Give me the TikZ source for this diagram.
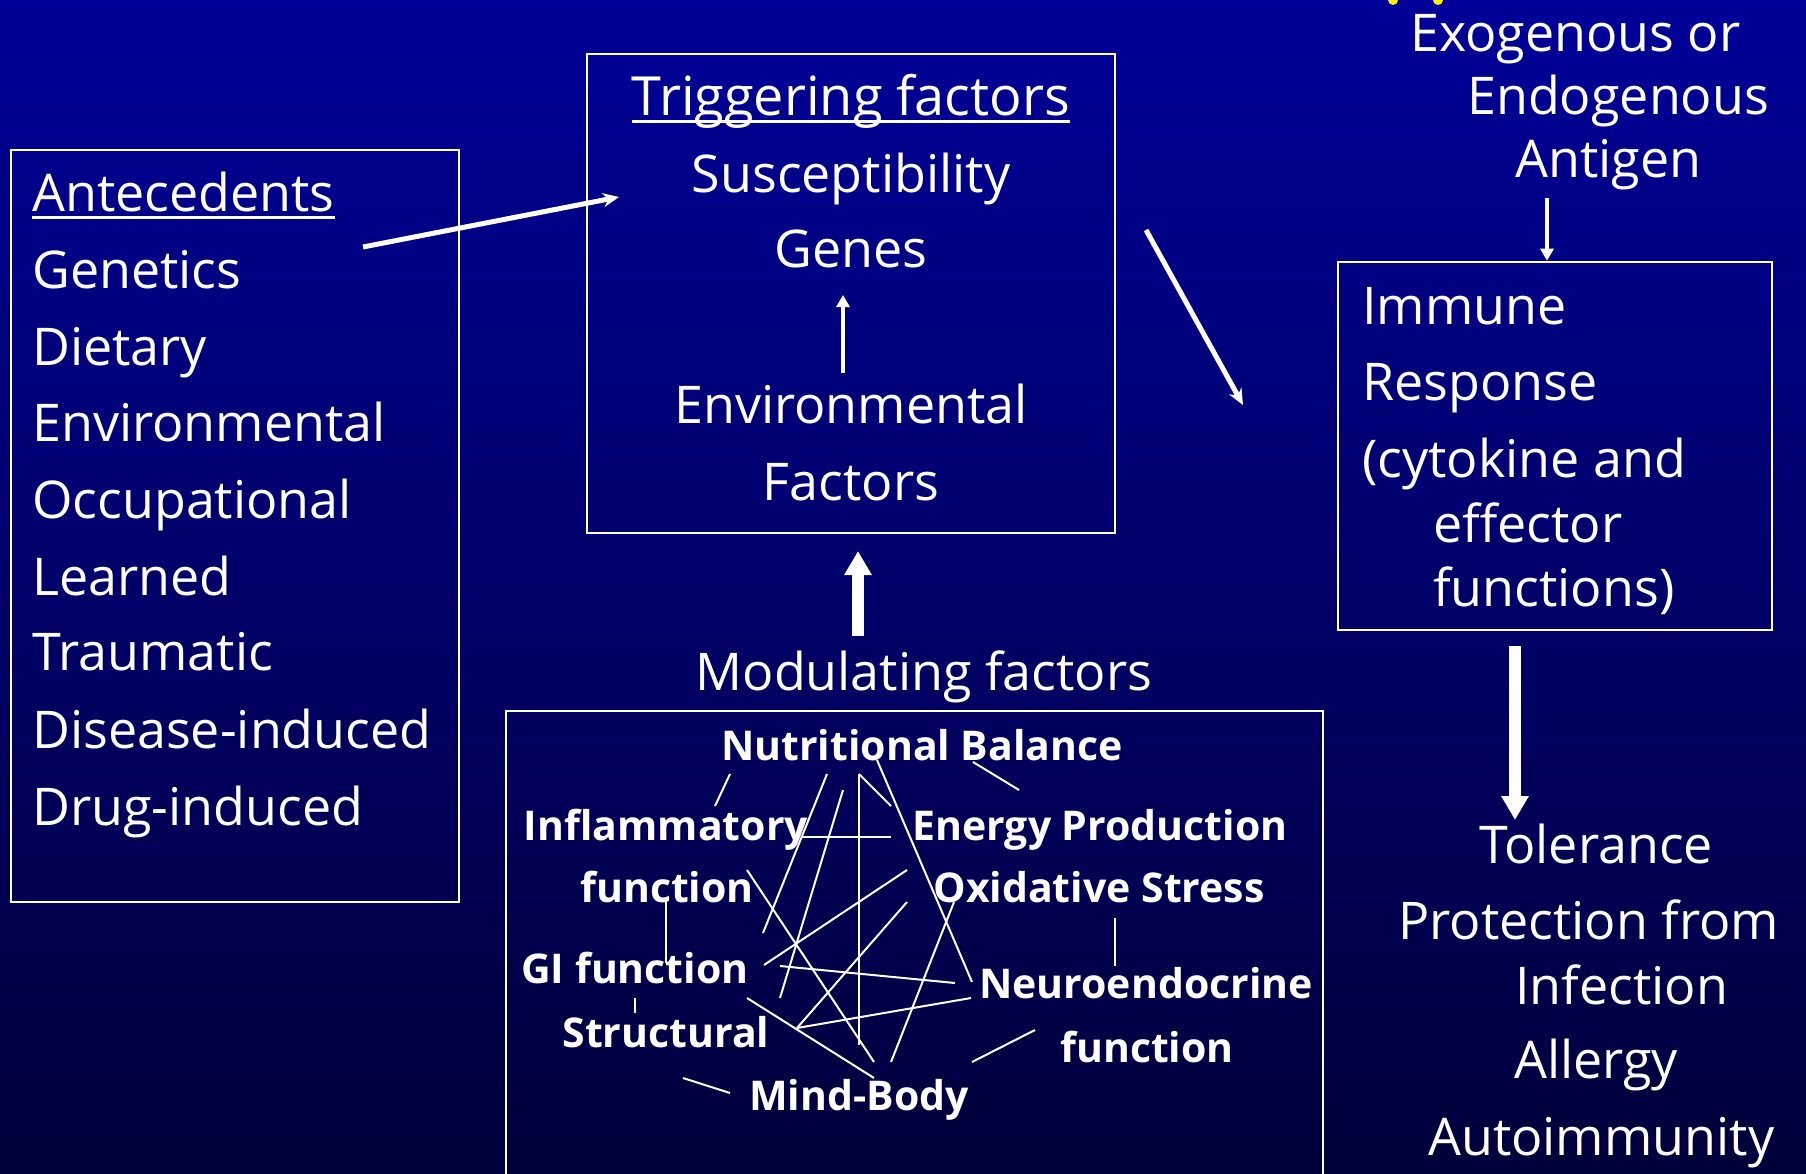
\documentclass[tikz,border=0pt]{standalone}
\usepackage{fontspec}
\setmainfont{Open Sans}
\usetikzlibrary{arrows.meta}
\definecolor{bgtop}{RGB}{0,0,152}
\definecolor{bgmid}{RGB}{0,0,115}
\definecolor{bgbot}{RGB}{0,0,58}
\begin{document}
\begin{tikzpicture}[x=1pt,y=-1pt,
  txt/.style={text=white, inner sep=0pt, font=\fontsize{52}{60}\selectfont},
  btxt/.style={text=white, inner sep=0pt, font=\fontsize{41}{48}\selectfont\bfseries},
  frame/.style={draw=white, line width=2.5pt, inner sep=0pt},
  web/.style={draw=white, line width=2pt},
  uline/.style={draw=white, line width=3pt},
  thinarrow/.style={draw=white, line width=5pt, -{Stealth[length=16pt,width=14pt]}},
  smallarrow/.style={draw=white, line width=4.5pt, -{Triangle[length=12pt,width=13pt]}},
  blockarrow/.style={draw=white, line width=12pt, -{Triangle[length=24pt,width=26pt]}}
]
\useasboundingbox (0,0) rectangle (1806,1174);
\clip (0,0) rectangle (1806,1174);
\shade[top color=bgtop, middle color=bgmid, bottom color=bgbot] (0,0) rectangle (1806,1174);
\fill[yellow] (1393,0) circle (5);
\fill[yellow] (1438,0) circle (5);

% ---------- boxes ----------
\node[frame, minimum width=448pt, minimum height=752pt] (antebox) at (235,526) {};
\node[frame, minimum width=528pt, minimum height=479pt] (trigbox) at (851,293.5) {};
\node[frame, minimum width=434pt, minimum height=368pt] (immbox) at (1555,446) {};
\node[frame, minimum width=817pt, minimum height=470pt] (modbox) at (914.5,946) {};

% ---------- antecedents ----------
\node[txt, anchor=base west] (ante) at (32,212) {Antecedents};
\draw[uline] ([yshift=-6pt]ante.base west) -- ([yshift=-6pt]ante.base east);
\node[txt, anchor=base west] (gen) at (32,288) {Genetics};
\node[txt, anchor=base west] (diet) at (32,365) {Dietary};
\node[txt, anchor=base west] (envl) at (32,441) {Environmental};
\node[txt, anchor=base west] (occ) at (32,518) {Occupational};
\node[txt, anchor=base west] (learn) at (32,595) {Learned};
\node[txt, anchor=base west] (trau) at (32,670) {Traumatic};
\node[txt, anchor=base west] (dis) at (32,748) {Disease-induced};
\node[txt, anchor=base west] (drug) at (32,825) {Drug-induced};

% ---------- triggering ----------
\node[txt, anchor=base, font=\fontsize{54}{60}\selectfont] (trig) at (851,116) {Triggering factors};
\draw[uline] ([yshift=-6pt]trig.base west) -- ([yshift=-6pt]trig.base east);
\node[txt, anchor=base] (susc) at (851,193) {Susceptibility};
\node[txt, anchor=base] (genes) at (851,268) {Genes};
\node[txt, anchor=base] (envt) at (851,423) {Environmental};
\node[txt, anchor=base] (fact) at (851,500) {Factors};
\coordinate (envtop) at (843,373);
\coordinate (genbot) at (843,295);
\draw[smallarrow] (envtop) -- (genbot);

\coordinate (anteout) at (363,247);
\coordinate (trigin) at (619,197);
\draw[thinarrow] (anteout) -- (trigin);

\coordinate (trigout) at (1146,230);
\coordinate (immin) at (1243,405);
\draw[thinarrow] (trigout) -- (immin);

% ---------- antigen ----------
\node[txt, anchor=base west] (exo) at (1410,52) {Exogenous or};
\node[txt, anchor=base west] (endo) at (1467,115) {Endogenous};
\node[txt, anchor=base west] (antig) at (1515,178) {Antigen};
\coordinate (antigbot) at (1547,198);
\draw[smallarrow] (antigbot) -- (immbox.north -| antigbot);

% ---------- immune response ----------
\node[txt, anchor=base west] (imm) at (1362,324) {Immune};
\node[txt, anchor=base west] (resp) at (1362,400) {Response};
\node[txt, anchor=base west] (cyto) at (1362,477) {(cytokine and};
\node[txt, anchor=base west] (effe) at (1433,542) {effector};
\node[txt, anchor=base west] (func) at (1433,606) {functions)};

\coordinate (immout) at (1515,646);
\coordinate (tolin) at (1515,820);
\draw[blockarrow] (immout) -- (tolin);

\node[txt, anchor=base] (tol) at (1596,863) {Tolerance};
\node[txt, anchor=base west] (prot) at (1398,939) {Protection from};
\node[txt, anchor=base west] (inf) at (1515,1004) {Infection};
\node[txt, anchor=base] (all) at (1596,1078) {Allergy};
\node[txt, anchor=base west] (auto) at (1428,1155) {Autoimmunity};

% ---------- modulating ----------
\node[txt, anchor=base] (modl) at (924,690) {Modulating factors};
\coordinate (modtop) at (858,636);
\coordinate (trigbot) at (858,551);
\draw[blockarrow] (modtop) -- (trigbot);

\node[btxt, anchor=base] (nutr) at (922,760) {Nutritional Balance};
\node[btxt, anchor=base] (infl) at (666,840) {Inflammatory};
\node[btxt, anchor=base] (inff) at (667,902) {function};
\node[btxt, anchor=base] (ener) at (1100,840) {Energy Production};
\node[btxt, anchor=base] (oxid) at (1099,902) {Oxidative Stress};
\node[btxt, anchor=base] (gi) at (635,983) {GI function};
\node[btxt, anchor=base] (neur) at (1146,998) {Neuroendocrine};
\node[btxt, anchor=base] (stru) at (666,1047) {Structural};
\node[btxt, anchor=base] (neuf) at (1147,1062) {function};
\node[btxt, anchor=base] (mind) at (859,1110) {Mind-Body};

% web of links
\draw[web] (730,774) -- (715,806);
\draw[web] (827,774) -- (763,933);
\draw[web] (843,790) -- (780,998);
\draw[web] (859,774) -- (859,1045);
\draw[web] (859,774) -- (891,806);
\draw[web] (877,760) -- (972,982);
\draw[web] (973,762) -- (1019,790);
\draw[web] (802,837) -- (891,837);
\draw[web] (747,870) -- (874,1062);
\draw[web] (666,902) -- (666,963);
\draw[web] (764,965) -- (907,870);
\draw[web] (780,966) -- (955,983);
\draw[web] (797,1028) -- (907,902);
\draw[web] (797,1028) -- (971,998);
\draw[web] (891,1062) -- (954,902);
\draw[web] (747,998) -- (874,1078);
\draw[web] (1115,918) -- (1115,966);
\draw[web] (635,998) -- (635,1013);
\draw[web] (683,1078) -- (730,1093);
\draw[web] (972,1062) -- (1035,1030);
\end{tikzpicture}
\end{document}
